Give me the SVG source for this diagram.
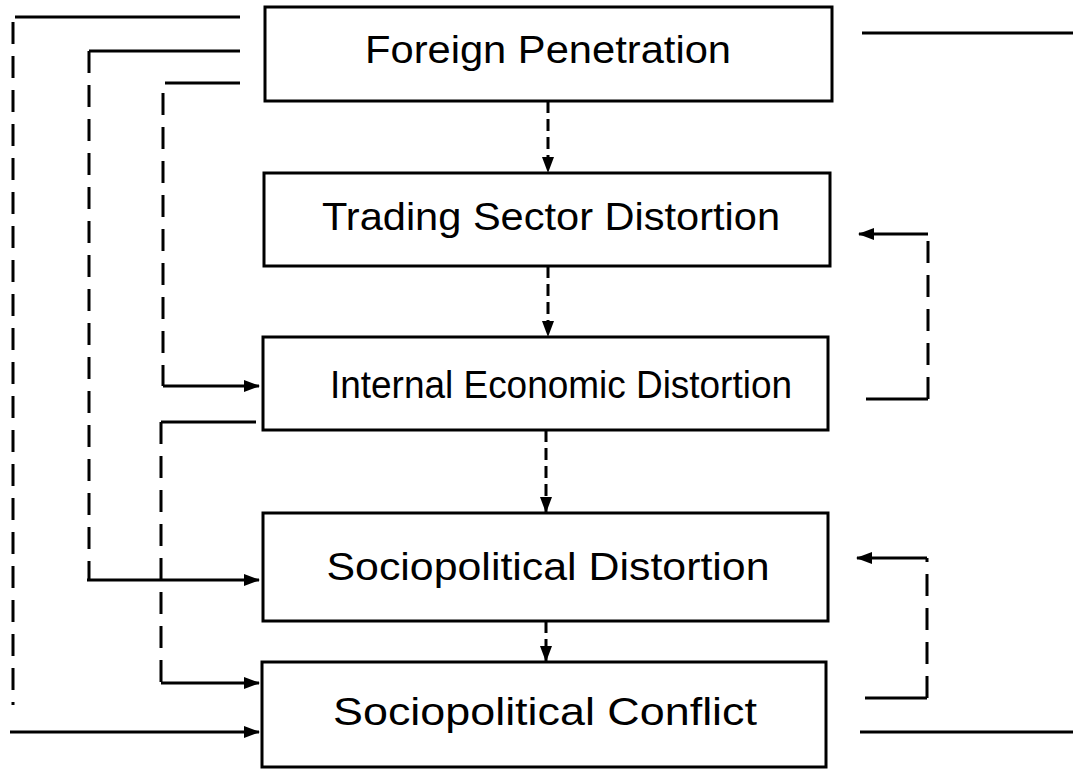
<svg xmlns="http://www.w3.org/2000/svg" width="1073" height="769" viewBox="0 0 1073 769">
<style>
.box{fill:#fff;stroke:#000;stroke-width:3}
.lbl{font-family:"Liberation Sans",Arial,sans-serif;font-size:38px;fill:#000;text-anchor:middle}
.s{fill:none;stroke:#000;stroke-width:3}
.d{fill:none;stroke:#000;stroke-width:3;stroke-dasharray:22 12}
.dc{fill:none;stroke:#000;stroke-width:3;stroke-dasharray:12 6}
</style>
<defs>
<marker id="ah" markerWidth="16" markerHeight="12" refX="15" refY="6" orient="auto" markerUnits="userSpaceOnUse">
<path d="M0,0 L16,6 L0,12 Z" fill="#000"/>
</marker>
</defs>
<rect width="1073" height="769" fill="#fff"/>
<g id="fp"><rect class="box" x="265" y="7" width="567" height="94"/><text class="lbl" x="548" y="63" textLength="366" lengthAdjust="spacingAndGlyphs">Foreign Penetration</text></g>
<g id="tsd"><rect class="box" x="264" y="173" width="566" height="93"/><text class="lbl" x="551" y="230" textLength="458" lengthAdjust="spacingAndGlyphs">Trading Sector Distortion</text></g>
<g id="ied"><rect class="box" x="263" y="337" width="565" height="93"/><text class="lbl" x="561" y="398" textLength="462" lengthAdjust="spacingAndGlyphs">Internal Economic Distortion</text></g>
<g id="spd"><rect class="box" x="263" y="513" width="565" height="108"/><text class="lbl" x="548" y="580" textLength="443" lengthAdjust="spacingAndGlyphs">Sociopolitical Distortion</text></g>
<g id="spc"><rect class="box" x="262" y="662" width="564" height="105"/><text class="lbl" x="545" y="725" textLength="424" lengthAdjust="spacingAndGlyphs">Sociopolitical Conflict</text></g>
<g id="connectors">
<path class="dc" d="M548,101 V172" marker-end="url(#ah)"/>
<path class="dc" d="M548,266 V336" marker-end="url(#ah)"/>
<path class="dc" d="M546,430 V512" marker-end="url(#ah)"/>
<path class="dc" d="M546,621 V661" marker-end="url(#ah)"/>
<path class="s" d="M15,17 H240"/>
<path class="d" d="M13,22 V705"/>
<path class="s" d="M10,732 H259" marker-end="url(#ah)"/>
<path class="s" d="M89,51 H240"/>
<path class="d" d="M89,51 V580"/>
<path class="s" d="M87,580 H259" marker-end="url(#ah)"/>
<path class="s" d="M165,83 H240"/>
<path class="d" d="M163,93 V386"/>
<path class="s" d="M163,386 H259" marker-end="url(#ah)"/>
<path class="s" d="M256,422 H161"/>
<path class="d" d="M161,422 V683"/>
<path class="s" d="M161,683 H259" marker-end="url(#ah)"/>
<path class="s" d="M862,33 H1073"/>
<path class="s" d="M866,399 H928"/>
<path class="d" d="M928,399 V234"/>
<path class="s" d="M928,234 H859" marker-end="url(#ah)"/>
<path class="s" d="M865,698 H927"/>
<path class="d" d="M927,698 V558"/>
<path class="s" d="M927,558 H857" marker-end="url(#ah)"/>
<path class="s" d="M860,732 H1073"/>
</g>
</svg>
